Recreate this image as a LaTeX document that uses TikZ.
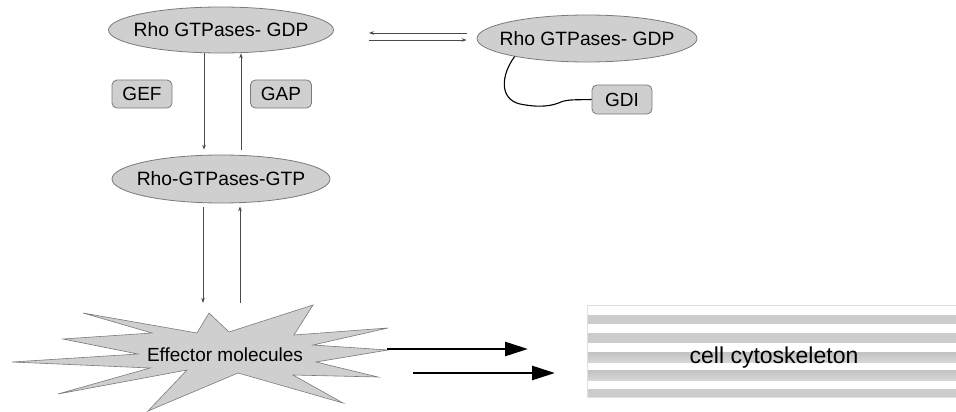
\documentclass[tikz,border=0pt]{standalone}
\usepackage{fontspec}
\setmainfont{Liberation Sans}
\usetikzlibrary{shapes.geometric,arrows.meta,calc}
\definecolor{shapefill}{HTML}{CFCFCF}
\definecolor{shapeedge}{HTML}{7A7A7A}
\definecolor{stripe}{HTML}{CCCCCC}
\definecolor{lineink}{HTML}{4A4A4A}
\tikzset{
  ell/.style={ellipse, draw=shapeedge, fill=shapefill, line width=0.8pt, inner sep=0pt},
  elltext/.style={label={[font=\fontsize{19.3}{22}\selectfont, inner sep=0pt]center:#1}},
  tag/.style={rounded corners=5pt, draw=shapeedge, fill=shapefill, line width=0.8pt,
    inner sep=0pt, font=\fontsize{19}{22}\selectfont},
  thinarrow/.style={draw=lineink, line width=0.6pt, -{Stealth[length=5pt,width=3.5pt]}},
  bigarrow/.style={draw=black, line width=2.6pt, -{Triangle[length=23pt,width=14pt]}},
}
\begin{document}
\begin{tikzpicture}[x=1pt,y=-1pt]
\useasboundingbox (0,0) rectangle (956,412);

% GDP / GTP forms of the GTPase
\node[ell, minimum width=225pt, minimum height=46pt, elltext={Rho GTPases- GDP}] (e1) at (221,30) {};
\node[ell, minimum width=220pt, minimum height=47pt, elltext={Rho GTPases- GDP}] (e2) at (587,38.5) {};
\node[ell, minimum width=218pt, minimum height=48pt, elltext={Rho-GTPases-GTP}] (e3) at (221,179) {};

% regulators
\node[tag, minimum width=60pt, minimum height=28pt] (gef) at (142,94) {GEF};
\node[tag, minimum width=61pt, minimum height=28pt] (gap) at (281,94) {GAP};
\node[tag, minimum width=60pt, minimum height=29pt] (gdi) at (622,99.5) {GDI};

% exchange between the two GDP pools
\draw[thinarrow, shorten <=10pt, shorten >=35pt] (e2.west |- 0,33) -- (e1.east |- 0,33);
\draw[thinarrow, shorten <=35pt, shorten >=10pt] (e1.east |- 0,40) -- (e2.west |- 0,40);

% GDP <-> GTP cycle
\draw[thinarrow, shorten >=5pt] (e1.south -| 204,0) -- (e3.north -| 204,0);
\draw[thinarrow, shorten <=5pt] (e3.north -| 241,0) -- (e1.south -| 241,0);

% GDI tether
\draw[black, line width=1.1pt] (e2.194) .. controls (501,75) and (499,99) .. (520,104)
  .. controls (540,108) and (552,106) .. (561,102)
  .. controls (568,99) and (580,100) .. (gdi.west);

% effector burst
\draw[draw=shapeedge, fill=shapefill, line width=0.6pt, line join=miter]
  (209,313) -- (229,332) -- (313,305) -- (294,335) -- (388,328) -- (313,345)
  -- (388,350) -- (316,362) -- (378,377) -- (293,375) -- (343,403) -- (238,373)
  -- (148,411) -- (187,370) -- (58,394) -- (150,368) -- (12,362) -- (138,354)
  -- (63,339) -- (152,333) -- (83,313) -- (197,333) -- cycle;
\node[font=\fontsize{19}{22}\selectfont, inner sep=0pt] (eff) at (225,355) {Effector molecules};
\coordinate (effup) at (203,303);
\coordinate (effdown) at (240,303);
\coordinate (spike) at (387,349);
\coordinate (tail) at (413,373);

\draw[thinarrow, shorten <=4pt] (e3.south -| 203,0) -- (effup);
\draw[thinarrow, shorten >=3pt] (effdown) -- (e3.south -| 240,0);

% cytoskeleton panel
\node[minimum width=372pt, minimum height=92pt, inner sep=0pt, anchor=north west] (cyto) at (587,305) {};
\fill[stripe] (587,315) rectangle (956,324);
\fill[stripe] (587,333) rectangle (956,343);
\shade[top color=black!24, middle color=black!4, bottom color=black!16] (587,352) rectangle (956,362);
\shade[top color=black!24, middle color=black!4, bottom color=black!16] (587,370) rectangle (956,380);
\fill[stripe] (587,389) rectangle (956,397);
\draw[black!12, line width=0.8pt] (956,305) -- (587,305) -- (587,397) -- (956,397);
\node[font=\fontsize{23}{27}\selectfont, inner sep=0pt] (cytolabel) at (774,358) {cell cytoskeleton};

\draw[bigarrow, shorten >=59pt] (spike) -- (cyto.west |- 0,349);
\draw[bigarrow, shorten >=32pt] (tail) -- (cyto.west |- 0,373);
\end{tikzpicture}
\end{document}
